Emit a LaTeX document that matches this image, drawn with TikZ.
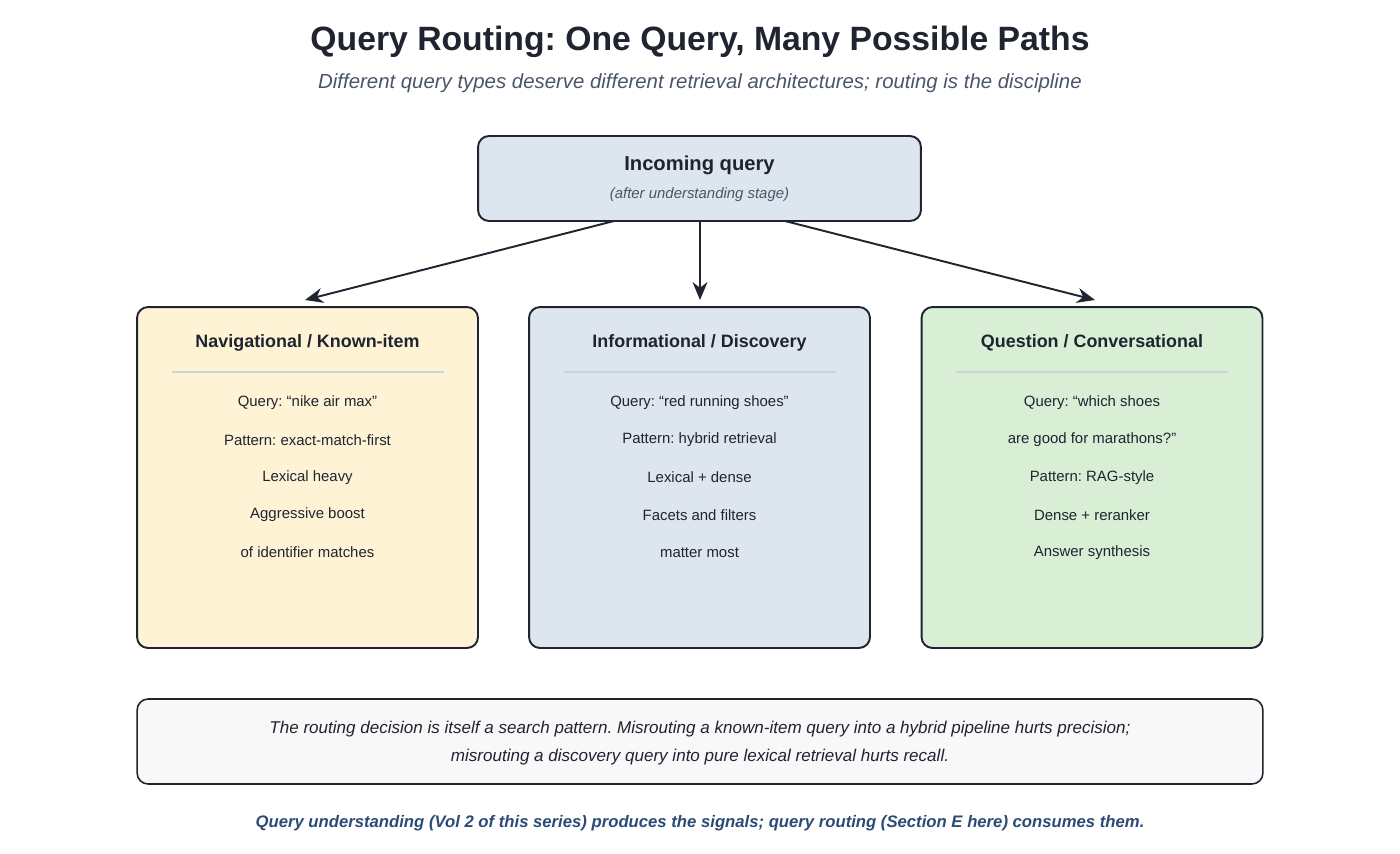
\documentclass[tikz,border=0pt]{standalone}
\usepackage{fontspec}
\setmainfont{Liberation Sans}
\frenchspacing
\usetikzlibrary{positioning,arrows.meta}
\definecolor{ink}{HTML}{1F2430}
\definecolor{subgray}{HTML}{4A5568}
\definecolor{navfill}{HTML}{FFF3D6}
\definecolor{infofill}{HTML}{DDE6EF}
\definecolor{qafill}{HTML}{D8EFD6}
\definecolor{notefill}{HTML}{F8F8F8}
\definecolor{rulegray}{HTML}{CBD3DC}
\definecolor{footblue}{HTML}{2C4A75}
\tikzset{
  card/.style={rectangle, rounded corners=2.2mm, draw=ink, line width=1.1pt, minimum width=6.82cm, minimum height=6.82cm},
  head/.style={font={\bfseries\fontsize{10.2}{12}\selectfont}, text=ink},
  item/.style={font={\fontsize{8.5}{10}\selectfont}, text=ink},
  route/.style={-{Stealth[length=3.6mm,width=3mm]}, draw=ink, line width=1.1pt}
}
\begin{document}
\begin{tikzpicture}[x=0.02cm, y=-0.02cm]
  \useasboundingbox (0,0) rectangle (1400,853);

  \node (title) at (700,42) {\bfseries\fontsize{19.2}{22}\selectfont\color{ink}Query Routing: One Query, Many Possible Paths};
  \node (subtitle) at (700,83) {\itshape\fontsize{11.6}{14}\selectfont\color{subgray}Different query types deserve different retrieval architectures; routing is the discipline};

  % incoming query
  \node[rectangle, rounded corners=2.2mm, draw=ink, line width=1.1pt, fill=infofill, minimum width=8.86cm, minimum height=1.7cm] (incoming) at (699.5,178.5) {};
  \node[font={\bfseries\fontsize{11.5}{14}\selectfont}, text=ink] (incomingHead) at (699.5,165) {Incoming query};
  \node[font={\itshape\fontsize{8.5}{10}\selectfont}, text=subgray] (incomingSub) at (699.5,195) {(after understanding stage)};

  % three routes
  \node[card, fill=navfill] (nav) at (307.5,477.5) {};
  \node[card, fill=infofill] (info) at (699.5,477.5) {};
  \node[card, fill=qafill] (qa) at (1092,477.5) {};

  \foreach \cname/\cx/\hd in {nav/307.5/{Navigational / Known-item}, info/699.5/{Informational / Discovery}, qa/1092/{Question / Conversational}}{
    \node[head] (\cname Head) at (\cx,343) {\hd};
    \draw[rulegray, line width=1.3pt] (\cx-136,372) -- (\cx+136,372);
  }

  \foreach \txt [count=\i] in {Query: “nike air max”, Pattern: exact-match-first, Lexical heavy, Aggressive boost, of identifier matches}
    \node[item] (nav\i) at (307.5,365+37.5*\i) {\txt};
  \foreach \txt [count=\i] in {Query: “red running shoes”, Pattern: hybrid retrieval, Lexical + dense, Facets and filters, matter most}
    \node[item] (info\i) at (699.5,365+37.5*\i) {\txt};
  \foreach \txt [count=\i] in {Query: “which shoes, are good for marathons?”, Pattern: RAG-style, Dense + reranker, Answer synthesis}
    \node[item] (qa\i) at (1092,365+37.5*\i) {\txt};

  % connectors
  \coordinate (outL) at (614,221);
  \coordinate (outM) at (700,221);
  \coordinate (outR) at (785,221);
  \coordinate (inL) at (305,300);
  \coordinate (inM) at (700,300);
  \coordinate (inR) at (1095,300);
  \draw[route] (outL) -- (inL);
  \draw[route] (outM) -- (inM);
  \draw[route] (outR) -- (inR);

  % note
  \node[rectangle, rounded corners=2.2mm, draw=ink, line width=0.9pt, fill=notefill, minimum width=22.52cm, minimum height=1.7cm] (note) at (700,741.5) {};
  \node[font={\itshape\fontsize{9.7}{12}\selectfont}, text=ink] (note1) at (700,729) {The routing decision is itself a search pattern. Misrouting a known-item query into a hybrid pipeline hurts precision;};
  \node[font={\itshape\fontsize{9.7}{12}\selectfont}, text=ink] (note2) at (700,757) {misrouting a discovery query into pure lexical retrieval hurts recall.};

  \node[font={\bfseries\itshape\fontsize{9.5}{12}\selectfont}, text=footblue] (footer) at (700,823) {Query understanding (Vol 2 of this series) produces the signals; query routing (Section E here) consumes them.};
\end{tikzpicture}
\end{document}
